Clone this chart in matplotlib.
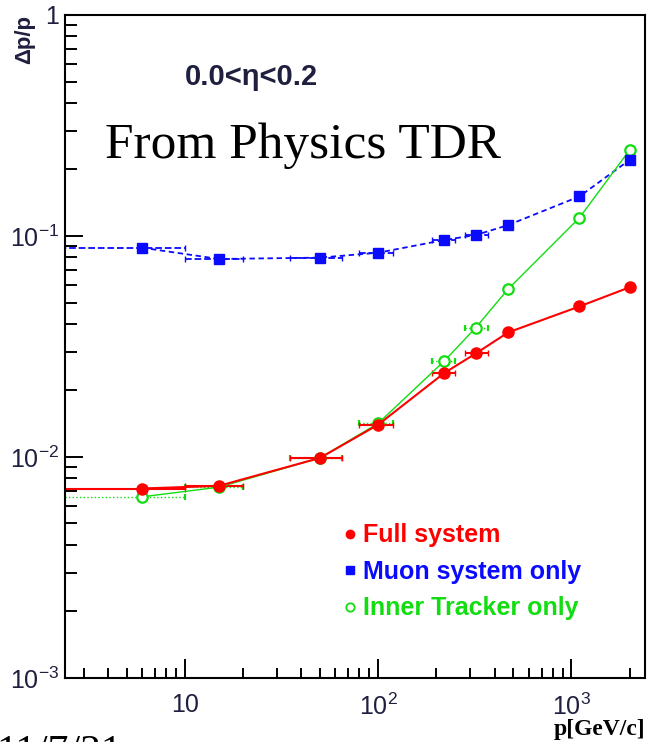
import numpy as np
import matplotlib as mpl
mpl.use('Agg')
import matplotlib.pyplot as plt
from matplotlib.lines import Line2D
from matplotlib.ticker import LogLocator, NullFormatter

plt.rcParams['font.family'] = ['Liberation Sans', 'DejaVu Sans']
plt.rcParams['mathtext.default'] = 'regular'

# momentum bins [GeV/c] and horizontal bin half-widths
p = [6, 15, 50, 100, 220, 320, 470, 1100, 2000]
p_lo = [4, 5, 15, 20, 30, 40, 0, 0, 0]
p_hi = [4, 5, 15, 20, 30, 50, 0, 0, 0]

# momentum resolution dp/p
full = [0.0072, 0.0074, 0.0099, 0.014, 0.024, 0.0294, 0.0366, 0.048, 0.0586]
muon = [0.0885, 0.0787, 0.0798, 0.084, 0.0959, 0.101, 0.112, 0.151, 0.221]
inner = [0.0066, 0.0073, 0.0099, 0.0142, 0.0272, 0.0385, 0.0575, 0.121, 0.245]

labels = ['Full system', 'Muon system only', 'Inner Tracker only']
c_red = '#ff0000'
c_blue = '#0a0aff'
c_green = '#11dd11'
tick_col = '#1f1f3f'

fig = plt.figure(figsize=(6.49, 7.42), dpi=100)
ax = fig.add_axes([0.1002, 0.0863, 0.8936, 0.8935])

# inner tracker
eb = ax.errorbar(p, inner, xerr=[p_lo, p_hi], fmt='o-', color=c_green, ms=7.5,
                 mfc='white', mec=c_green, mew=1.6, lw=1.0, elinewidth=1.0,
                 capsize=2.5)
eb[2][0].set_linestyle(':')

# full system
ax.errorbar(p, full, xerr=[p_lo, p_hi], fmt='o-', color=c_red, ms=8,
            lw=1.5, elinewidth=1.5, capsize=2.5)

# muon system
eb = ax.errorbar(p, muon, xerr=[p_lo, p_hi], fmt='s', color=c_blue, ms=7.5,
                 elinewidth=1.3, capsize=2.5)
eb[2][0].set_linestyle('--')
ax.plot(p, muon, color=c_blue, lw=1.3, ls=(0, (3, 2)))

ax.set_xscale('log')
ax.set_yscale('log')
ax.set_xlim(2.4, 2400)
ax.set_ylim(1e-3, 1)

ax.set_xticks([10, 100, 1000])
ax.set_xticklabels(['10', '$10^{2}$', '$10^{3}$'])
ax.set_yticks([1e-3, 1e-2, 1e-1, 1])
ax.set_yticklabels(['$10^{-3}$', '$10^{-2}$', '$10^{-1}$', '1'])
ax.xaxis.set_minor_locator(LogLocator(base=10, subs=np.arange(2, 10)))
ax.yaxis.set_minor_locator(LogLocator(base=10, subs=np.arange(2, 10)))
ax.xaxis.set_minor_formatter(NullFormatter())
ax.yaxis.set_minor_formatter(NullFormatter())

ax.tick_params(which='both', direction='in', top=False, right=False,
               width=1.4, colors='black', labelcolor=tick_col, labelsize=18)
ax.tick_params(axis='y', which='major', length=13, pad=4)
ax.tick_params(axis='y', which='minor', length=8.5)
ax.tick_params(axis='x', which='major', length=14, pad=11)
ax.tick_params(axis='x', which='minor', length=7)
for s in ax.spines.values():
    s.set_linewidth(1.5)

handles = [
    Line2D([], [], ls='none', marker='o', color=c_red, ms=6),
    Line2D([], [], ls='none', marker='s', color=c_blue, ms=5.5),
    Line2D([], [], ls='none', marker='o', color=c_green, mfc='white',
           mec=c_green, mew=1.3, ms=6),
]
ax.legend(handles=handles, labels=labels, loc='center left',
          bbox_to_anchor=(0.44, 0.16), frameon=False, labelcolor='linecolor',
          prop={'weight': 'bold', 'size': 18}, handlelength=0.6,
          handletextpad=0.2, labelspacing=0.5)

ax.text(0.207, 0.895, '0.0<\u03b7<0.2', transform=ax.transAxes, fontsize=21,
        fontweight='bold', color=tick_col, va='baseline')
fig.text(0.1618, 0.787, 'From Physics TDR', family='Liberation Serif',
         fontsize=37, va='baseline', color='black')

fig.text(25 / 649, 1 - 15 / 742, '\u0394p/p', rotation=90, ha='center',
         va='top', fontsize=16, fontweight='bold', color=tick_col)
fig.text(0.9938, 0.01, 'p[GeV/c]', family='Liberation Serif', ha='right',
         va='baseline', fontsize=17, fontweight='bold', color='black')
fig.text(-0.005, 1 - 734 / 742, '11/7/31', family='Liberation Serif',
         fontsize=30, va='top', color='black')

fig.savefig('out.png', dpi=100)
